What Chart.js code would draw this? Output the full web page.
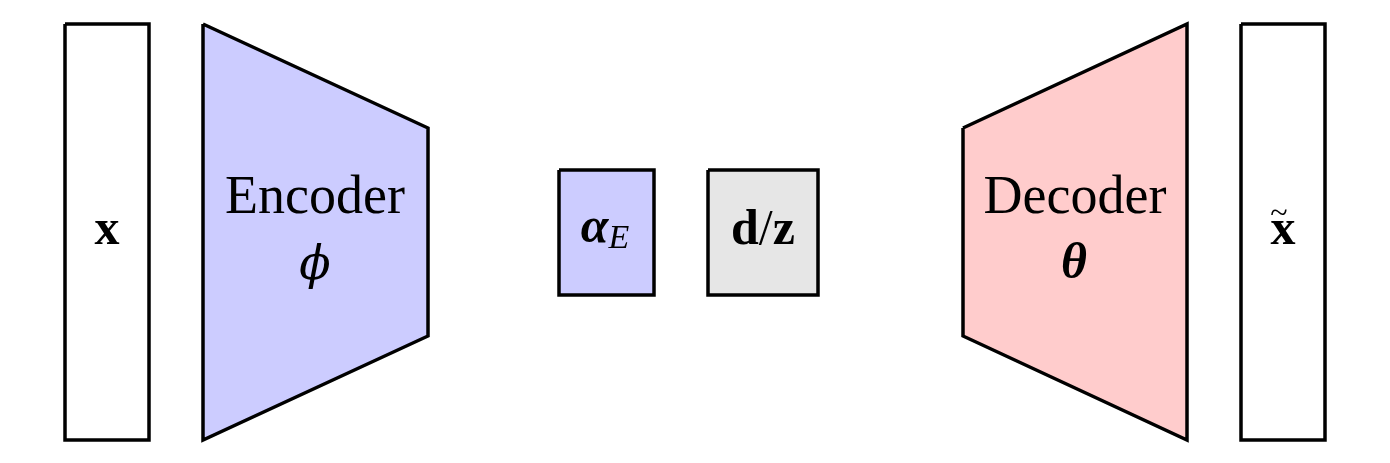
<!DOCTYPE html>
<html>
<head>
<meta charset="utf-8">
<script src="https://cdn.jsdelivr.net/npm/chart.js@4.4.1/dist/chart.umd.min.js"></script>
<style>
  html, body { margin: 0; padding: 0; background: #fff; }
  #wrap { width: 1390px; height: 463px; }
</style>
</head>
<body>
<div id="wrap"><canvas id="diagram"></canvas></div>
<script>
// block outlines, in picture units (x to the right, y downward)
const blockNames = ['input', 'encoder', 'alpha', 'latent', 'decoder', 'output'];
const inputX   = [65, 149, 149, 65];
const inputY   = [24, 24, 440, 440];
const encoderX = [203, 428, 428, 203];
const encoderY = [24, 128, 336, 440];
const alphaX   = [559, 654, 654, 559];
const alphaY   = [170, 170, 295, 295];
const latentX  = [708, 818, 818, 708];
const latentY  = [170, 170, 295, 295];
const decoderX = [963, 1187, 1187, 963];
const decoderY = [128, 24, 440, 336];
const outputX  = [1241, 1325, 1325, 1241];
const outputY  = [24, 24, 440, 440];
const blockFills = ['#ffffff', '#ccccff', '#ccccff', '#e6e6e6', '#ffcccc', '#ffffff'];

// labels: anchor (centre, baseline) and text runs
const labelX = [107, 315, 315, 605, 763, 1075, 1074, 1283, 1279];
const labelY = [244, 213, 279, 242, 244, 213, 278, 244, 223];
const labelRuns = [
  [{ t: 'x', f: 'bold 50px "Liberation Serif"' }],
  [{ t: 'Encoder', f: '54px "Liberation Serif"' }],
  [{ t: 'ϕ', f: 'italic 46px "DejaVu Serif"' }],
  [{ t: 'α', f: 'italic bold 50px "Liberation Serif"' }, { t: 'E', f: 'italic 34px "Liberation Serif"', dy: 6 }],
  [{ t: 'd', f: 'bold 50px "Liberation Serif"' }, { t: '/', f: '50px "Liberation Serif"' }, { t: 'z', f: 'bold 50px "Liberation Serif"' }],
  [{ t: 'Decoder', f: '54px "Liberation Serif"' }],
  [{ t: 'θ', f: 'italic bold 50px "Liberation Serif"' }],
  [{ t: 'x', f: 'bold 50px "Liberation Serif"' }],
  [{ t: '~', f: '32px "Liberation Serif"' }]
];

const xs = [inputX, encoderX, alphaX, latentX, decoderX, outputX];
const ys = [inputY, encoderY, alphaY, latentY, decoderY, outputY];

const datasets = blockNames.map((name, i) => {
  let pts = xs[i].map((x, k) => ({ x: x, y: ys[i][k] }));
  pts.push(pts[0]);
  return {
    label: name,
    data: pts,
    showLine: true,
    fill: 'shape',
    backgroundColor: blockFills[i],
    borderColor: '#000',
    borderWidth: 3.5,
    borderJoinStyle: 'miter',
    pointRadius: 0,
    tension: 0
  };
});

const labelPlugin = {
  id: 'blockLabels',
  afterDatasetsDraw(chart) {
    const ctx = chart.ctx;
    const sx = chart.scales.x, sy = chart.scales.y;
    ctx.save();
    ctx.fillStyle = '#000';
    ctx.textBaseline = 'alphabetic';
    ctx.textAlign = 'left';
    labelRuns.forEach((runs, i) => {
      let total = 0;
      runs.forEach(r => {
        ctx.font = r.f;
        r.w = ctx.measureText(r.t).width;
        total += r.w;
      });
      let cx = sx.getPixelForValue(labelX[i]) - total / 2;
      const by = sy.getPixelForValue(labelY[i]);
      runs.forEach(r => {
        ctx.font = r.f;
        ctx.fillText(r.t, cx, by + (r.dy || 0));
        cx += r.w;
      });
    });
    ctx.restore();
  }
};

new Chart(document.getElementById('diagram'), {
  type: 'scatter',
  data: { datasets: datasets },
  options: {
    responsive: true,
    maintainAspectRatio: false,
    animation: false,
    layout: { padding: 0 },
    plugins: { legend: { display: false }, tooltip: { enabled: false } },
    scales: {
      x: { type: 'linear', min: 0, max: 1390, display: false },
      y: { type: 'linear', min: 0, max: 463, reverse: true, display: false }
    }
  },
  plugins: [labelPlugin]
});
</script>
</body>
</html>
